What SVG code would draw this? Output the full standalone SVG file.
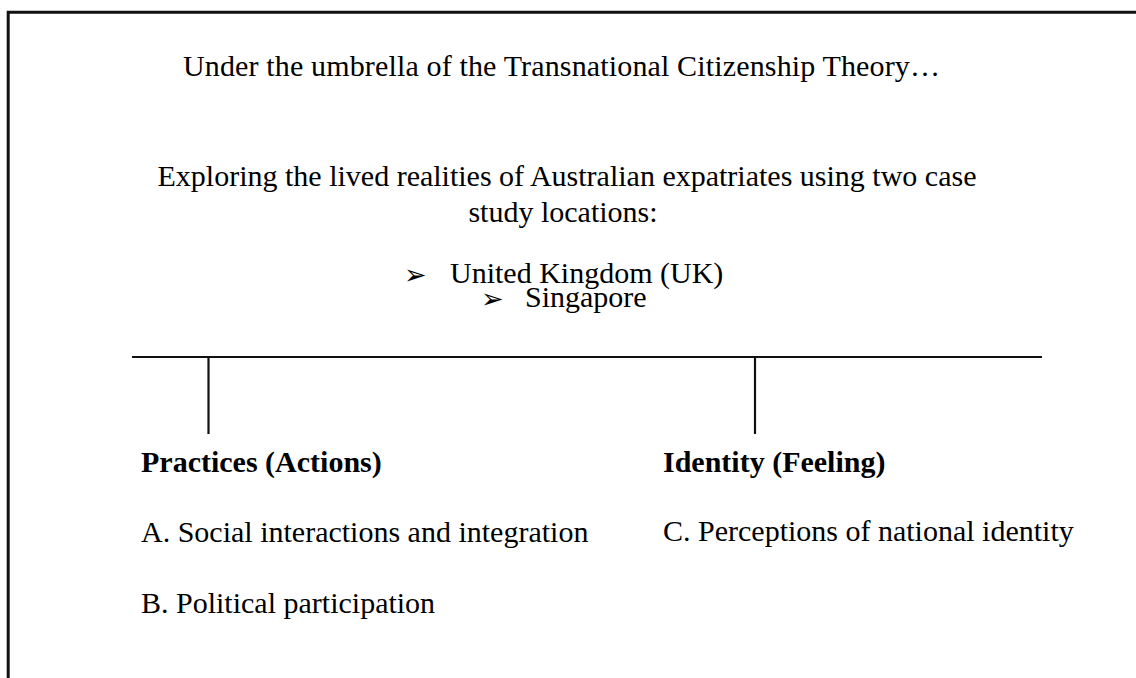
<svg xmlns="http://www.w3.org/2000/svg" width="1136" height="678" viewBox="0 0 1136 678">
<style>
.t{font-family:"Liberation Serif","Times New Roman",serif;font-size:30px;fill:#000}
.b{font-weight:bold}
.m{text-anchor:middle}
.arr{font-family:"DejaVu Sans",sans-serif;font-size:27px;fill:#000}
.ln{stroke:#111;stroke-width:2.2;fill:none}
.frame{stroke:#111;stroke-width:3;fill:none}
</style>
<rect width="1136" height="678" fill="#fff"/>
<g id="frame"><path class="frame" d="M8.2,680 V12.2 H1140"/></g>
<g id="title"><text class="t m" x="561.5" y="76" textLength="757" lengthAdjust="spacing">Under the umbrella of the Transnational Citizenship Theory…</text></g>
<g id="scope">
<text class="t m" x="567" y="186">Exploring the lived realities of Australian expatriates using two case</text>
<text class="t m" x="563" y="222">study locations:</text>
</g>
<g id="locations">
<text class="arr" x="404" y="284">➢</text>
<text class="t" x="450" y="283">United Kingdom (UK)</text>
<text class="arr" x="481" y="308">➢</text>
<text class="t" x="525" y="307">Singapore</text>
</g>
<g id="connectors">
<line class="ln" x1="132" y1="357" x2="1042" y2="357"/>
<line class="ln" x1="208.5" y1="357" x2="208.5" y2="434"/>
<line class="ln" x1="755" y1="357" x2="755" y2="434"/>
</g>
<g id="practices">
<text class="t b" x="141" y="472">Practices (Actions)</text>
<text class="t" x="141" y="542">A. Social interactions and integration</text>
<text class="t" x="141" y="613">B. Political participation</text>
</g>
<g id="identity">
<text class="t b" x="663" y="472">Identity (Feeling)</text>
<text class="t" x="663" y="541">C. Perceptions of national identity</text>
</g>
</svg>
